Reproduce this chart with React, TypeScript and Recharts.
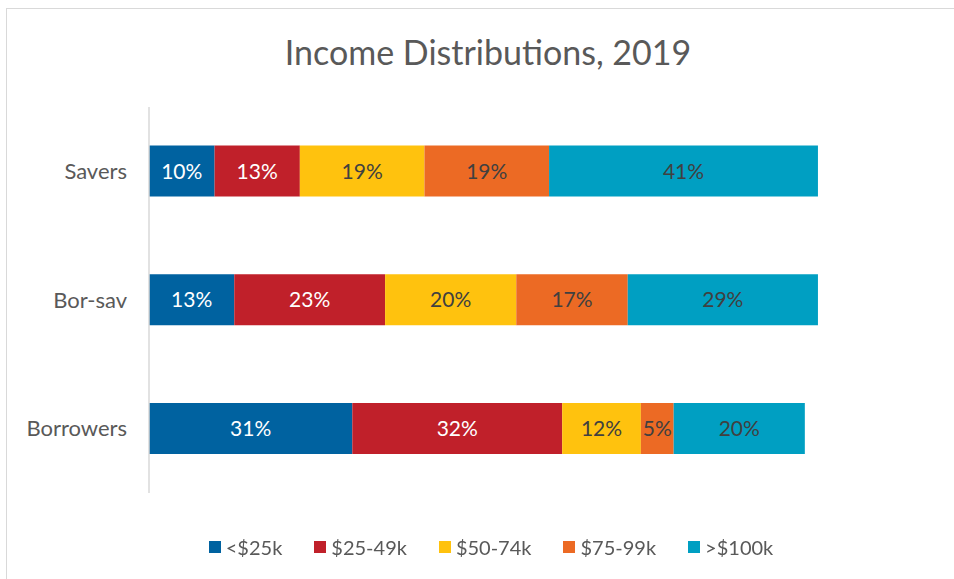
import { BarChart, Bar, XAxis, YAxis, Legend, LabelList } from "recharts";

const groups = ["Savers", "Bor-sav", "Borrowers"];
const under25 = [10, 13, 31];
const from25to49 = [13, 23, 32];
const from50to74 = [19, 20, 12];
const from75to99 = [19, 17, 5];
const over100 = [41, 29, 20];

const seriesNames = ["<$25k", "$25-49k", "$50-74k", "$75-99k", ">$100k"];
const seriesColors = ["#0062A0", "#C0202A", "#FFC20E", "#EC6A24", "#009FC2"];
const labelColors = ["#FFFFFF", "#FFFFFF", "#404040", "#404040", "#404040"];

const FONT = "Lato, 'Open Sans', sans-serif";

const data = groups.map((g, i) => ({
  group: g,
  s0: under25[i],
  s1: from25to49[i],
  s2: from50to74[i],
  s3: from75to99[i],
  s4: over100[i],
}));

function LegendRow() {
  return (
    <div
      style={{
        height: 30,
        display: "flex",
        justifyContent: "center",
        alignItems: "center",
        gap: 32,
        fontFamily: FONT,
        fontSize: 20,
        color: "#595959",
      }}
    >
      {seriesNames.map((n, i) => (
        <span key={n} style={{ display: "flex", alignItems: "center" }}>
          <span
            style={{
              width: 12,
              height: 12,
              background: seriesColors[i],
              display: "inline-block",
              marginRight: 5,
            }}
          />
          {n}
        </span>
      ))}
    </div>
  );
}

export default function App() {
  return (
    <div
      style={{
        position: "fixed",
        left: 6,
        top: 8,
        width: 948,
        height: 571,
        borderTop: "1.5px solid #d9d9d9",
        borderLeft: "1.5px solid #d9d9d9",
        background: "#fff",
      }}
    >
      <div
        style={{
          position: "absolute",
          left: 7,
          top: 22,
          width: 948,
          textAlign: "center",
          fontFamily: FONT,
          fontSize: 34,
          lineHeight: "42px",
          color: "#595959",
        }}
      >
        Income Distributions, 2019
      </div>
      <BarChart
        width={948}
        height={571}
        data={data}
        layout="vertical"
        barCategoryGap="30%"
        margin={{ top: 98, right: 19, bottom: 57, left: 0 }}
      >
        <XAxis type="number" domain={[0, 120]} hide />
        <YAxis
          type="category"
          dataKey="group"
          width={142}
          tickLine={false}
          tickSize={0}
          tickMargin={22}
          axisLine={{ stroke: "#d9d9d9", strokeWidth: 1.5 }}
          tick={{ fontSize: 22, fill: "#595959", fontFamily: FONT }}
        />
        <Legend
          verticalAlign="bottom"
          content={() => <LegendRow />}
          wrapperStyle={{ top: 523, left: 10, width: 948, bottom: "auto" }}
        />
        {seriesNames.map((n, i) => (
          <Bar
            key={n}
            dataKey={`s${i}`}
            name={n}
            stackId="a"
            fill={seriesColors[i]}
            isAnimationActive={false}
          >
            <LabelList
              dataKey={`s${i}`}
              position="center"
              formatter={(v: number) => `${v}%`}
              style={{ fontSize: 21, fill: labelColors[i], fontFamily: FONT }}
            />
          </Bar>
        ))}
      </BarChart>
    </div>
  );
}
